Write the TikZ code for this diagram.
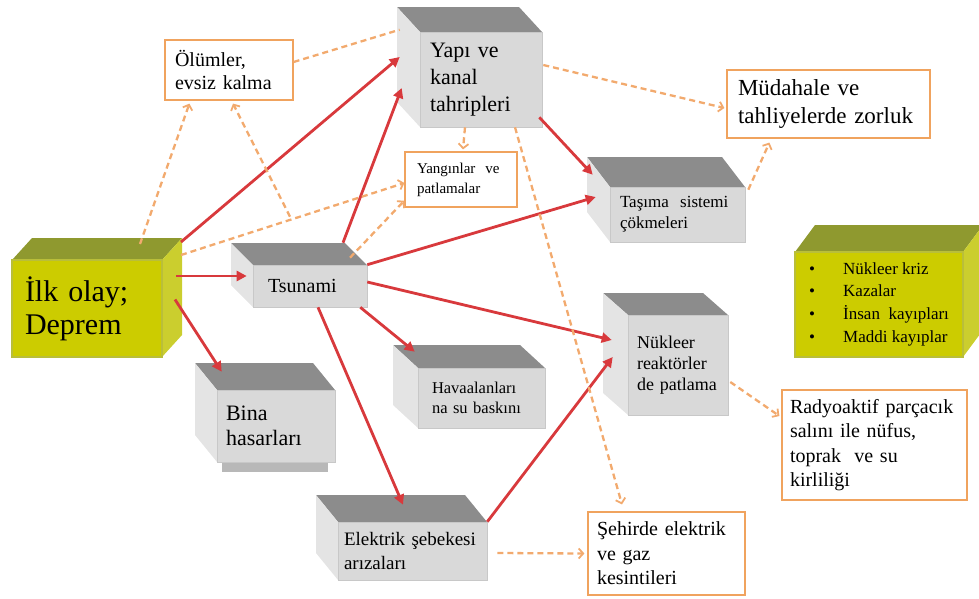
\documentclass[tikz,border=0pt]{standalone}
\usepackage{fontspec}
\setmainfont{Liberation Serif}
\usetikzlibrary{arrows.meta}

\definecolor{gtop}{HTML}{8C8C8C}
\definecolor{gside}{HTML}{E4E4E4}
\definecolor{gfront}{HTML}{D9D9D9}
\definecolor{gedge}{HTML}{C8C8C8}
\definecolor{gshadow}{HTML}{B8B8B8}
\definecolor{ytop}{HTML}{8F992F}
\definecolor{yside}{HTML}{CBCE2E}
\definecolor{yfront}{HTML}{CCCC00}
\definecolor{yrim}{HTML}{B9BE3A}
\definecolor{redline}{HTML}{D8393C}
\definecolor{orline}{HTML}{F2AA6E}
\definecolor{orbox}{HTML}{F0A35E}

\newcommand\fs[2]{\fontsize{#1}{#2}\selectfont}

% grey block: name, x1, y1, x2, y2 (front face), dx, dy (depth towards the back-left), node options, text
\newcommand\graybox[9]{%
  \fill[gtop] (#2,#3) -- ({#2+#6},{#3+#7}) -- ({#4+#6},{#3+#7}) -- (#4,#3) -- cycle;
  \fill[gside] (#2,#3) -- ({#2+#6},{#3+#7}) -- ({#2+#6},{#5+#7}) -- (#2,#5) -- cycle;
  \pgfmathsetmacro\blockw{#4-#2}\pgfmathsetmacro\blockh{#5-#3}%
  \node[gbox, minimum width=\blockw pt, minimum height=\blockh pt, #8] (#1)
    at ({(#2+#4)/2},{(#3+#5)/2}) {#9};
}

% yellow block: depth towards the back-right
\newcommand\yellowbox[9]{%
  \fill[ytop] (#2,#3) -- ({#2+#6},{#3+#7}) -- ({#4+#6},{#3+#7}) -- (#4,#3) -- cycle;
  \fill[yside] (#4,#3) -- ({#4+#6},{#3+#7}) -- ({#4+#6},{#5+#7}) -- (#4,#5) -- cycle;
  \pgfmathsetmacro\blockw{#4-#2}\pgfmathsetmacro\blockh{#5-#3}%
  \node[ybox, minimum width=\blockw pt, minimum height=\blockh pt, #8] (#1)
    at ({(#2+#4)/2},{(#3+#5)/2}) {#9};
}

% outlined result box: name, x1, y1, x2, y2, node options, text
\newcommand\outbox[7]{%
  \pgfmathsetmacro\blockw{#4-#2}\pgfmathsetmacro\blockh{#5-#3}%
  \node[obox, minimum width=\blockw pt, minimum height=\blockh pt, #6] (#1)
    at ({(#2+#4)/2},{(#3+#5)/2}) {#7};
}

\tikzset{
  gbox/.style={fill=gfront, draw=gedge, line width=0.6pt, inner sep=0pt, align=left},
  ybox/.style={fill=yfront, draw=yrim, line width=2pt, inner sep=0pt, align=left},
  obox/.style={fill=white, draw=orbox, line width=1.2pt, inner sep=0pt, align=left},
  redarr/.style={draw=redline, line width=2.8pt,
    -{Triangle[length=10pt,width=10pt]}, shorten >=0pt},
  orarr/.style={draw=orline, line width=2.3pt, dash pattern=on 6pt off 4pt,
    -{Straight Barb[length=4.5pt,width=10pt,line width=1.8pt]}},
  orline/.style={draw=orline, line width=2.3pt, dash pattern=on 6pt off 4pt},
}

\begin{document}
\begin{tikzpicture}[x=1pt,y=-1pt]
\useasboundingbox (0,0) rectangle (979,598);

% ---- blocks ----
\yellowbox{ilk}{12}{260}{162}{357}{20}{-22}
  {text width=124pt, font=\fs{30}{33},
   path picture={\fill[yfront, draw=yellow!60!yfront, line width=0.6pt]
     (15,263) rectangle (147,352);}}
  {İlk olay;\\Deprem}

\graybox{yapi}{420}{32}{542}{127}{-23}{-25}
  {text width=102pt, font=\fs{22}{27}}{Yapı ve\\kanal\\tahripleri}

\graybox{tsu}{253}{265}{367}{307}{-22}{-22}
  {text width=84pt, font=\fs{20}{24}}{Tsunami}

\fill[gshadow] (222,462) rectangle (328,472);
\graybox{bina}{217}{390}{335}{462}{-22}{-27}
  {text width=100pt, font=\fs{22}{25}}{Bina\\hasarları}

\graybox{hava}{418}{368}{545}{428}{-25}{-23}
  {text width=99pt, font=\fs{16.5}{20}}{Havaalanları\\na su baskını}

\graybox{nuk}{628}{315}{728}{415}{-25}{-22}
  {text width=82pt, font=\fs{18}{21}}{Nükleer\\reaktörler\\de patlama}

\graybox{tasima}{610}{187}{745}{242}{-23}{-30}
  {text width=115pt, font=\fs{17}{21}}{Taşıma\ \ sistemi\\çökmeleri}

\graybox{elek}{338}{522}{487}{580}{-22}{-27}
  {text width=137pt, font=\fs{19}{24}}{Elektrik şebekesi\\arızaları}

\yellowbox{yel}{795}{252}{963}{357}{20}{-27}{}{}
\node[anchor=west, align=left, inner sep=0pt, font=\fs{17}{22.7}] (yellist) at (809,304)
  {\makebox[34pt][l]{\textbullet}Nükleer kriz\\
   \makebox[34pt][l]{\textbullet}Kazalar\\
   \makebox[34pt][l]{\textbullet}İnsan\ \ kayıpları\\
   \makebox[34pt][l]{\textbullet}Maddi kayıplar};

% ---- outlined results ----
\outbox{olum}{165}{40}{293}{100}{text width=108pt, font=\fs{20}{23}}{Ölümler,\\evsiz kalma}
\outbox{yang}{405}{152}{517}{207}{text width=88pt, font=\fs{15}{20}}{Yangınlar\ \ ve\\patlamalar}
\outbox{mud}{727}{70}{930}{138}{text width=181pt, font=\fs{23}{28}}{Müdahale ve\\tahliyelerde zorluk}
\outbox{rad}{782}{390}{967}{500}{text width=169pt, font=\fs{20}{24.5}}{Radyoaktif parçacık\\salını ile nüfus,\\toprak\ \ ve su\\kirliliği}
\outbox{sehir}{588}{512}{745}{595}{text width=139pt, font=\fs{20}{24.5}}{Şehirde elektrik\\ve gaz\\kesintileri}

% ---- direct consequences ----
\draw[redarr] ([shift={(18,-17)}]ilk.north east) -- ([shift={(-20,-22.5)}]yapi.west);
\draw[redarr] ([shift={(33,-22)}]tsu.north) -- ([shift={(-18,8.5)}]yapi.west);
\draw[redarr] ([shift={(13,-32.5)}]ilk.east) -- ([shift={(-6,-10)}]tsu.west);
\draw[redarr] ([shift={(12,-9)}]ilk.east) -- ([shift={(5,-18)}]bina.north west);
\draw[redarr] ([shift={(-7,0)}]tsu.south east) -- ([shift={(-3,-16)}]hava.north west);
\draw[redarr] ([shift={(8,0)}]tsu.south) -- ([shift={(-9.5,-17)}]elek.north);
\draw[redarr] (tsu.north east) -- ([shift={(-14,-17.5)}]tasima.west);
\draw[redarr] ([shift={(0,-4)}]tsu.east) -- ([shift={(-16,-25)}]nuk.west);
\draw[redarr] ([shift={(-3,-10)}]yapi.south east) -- ([shift={(-17,-12)}]tasima.north west);
\draw[redarr] (elek.north east) -- ([shift={(-15,-8)}]nuk.west);

% ---- indirect consequences ----
\draw[orline] ([shift={(0,-8)}]olum.east) -- ([shift={(-20,-2)}]yapi.north west);
\draw[orarr] ([shift={(53,-15)}]ilk.north) -- ([shift={(25,3)}]olum.south west);
\draw[orarr] ([shift={(-20,-48)}]tsu.north) -- ([shift={(4,3)}]olum.south);
\draw[orarr] ([shift={(18,-4)}]ilk.north east) -- ([shift={(0,3.5)}]yang.west);
\draw[orarr] ([shift={(40,-7)}]tsu.north) -- ([shift={(0,-7)}]yang.south west);
\draw[orarr] ([shift={(-16,0)}]yapi.south) -- ([shift={(2,-2)}]yang.north);
\draw[orarr] ([shift={(1,-14.5)}]yapi.east) -- ([shift={(-2,4)}]mud.west);
\draw[orarr] ([shift={(3,3)}]tasima.north east) -- ([shift={(43,4)}]mud.south west);
\draw[orarr] ([shift={(34,0)}]yapi.south) -- ([shift={(-44.5,-7)}]sehir.north);
\draw[orarr] ([shift={(10,2)}]elek.east) -- ([shift={(-3,0)}]sehir.west);
\draw[orarr] ([shift={(2,17)}]nuk.east) -- ([shift={(-2,-29)}]rad.west);
\end{tikzpicture}
\end{document}
